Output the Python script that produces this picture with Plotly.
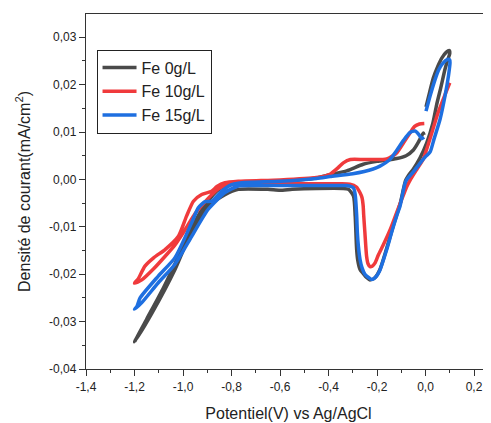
import plotly.graph_objects as go

# ---- data ----
fe0_x = [0.002, 0.015, 0.032, 0.05, 0.067, 0.085, 0.098,
         0.1, 0.09, 0.08, 0.065, 0.046, 0.03, 0.005, -0.023, -0.05, -0.071, -0.082, -0.09,
         -0.105, -0.133, -0.16, -0.188, -0.21, -0.229, -0.243, -0.258, -0.27, -0.279, -0.284,
         -0.29, -0.297, -0.318, -0.34, -0.45, -0.55, -0.6, -0.65, -0.772, -0.827, -0.896,
         -0.964, -1.033, -1.127, -1.2,
         -1.15, -1.08, -1.0, -0.95, -0.9, -0.86, -0.82, -0.77, -0.6, -0.45, -0.394, -0.325,
         -0.257, -0.2, -0.119, -0.08, -0.05, -0.03, -0.018, -0.009, -0.006]
fe0_y = [0.0153, 0.018, 0.0214, 0.0238, 0.0256, 0.0268, 0.0272,
         0.0266, 0.025, 0.0232, 0.0198, 0.0158, 0.0118, 0.0077, 0.0045, 0.0022, 0.0008, -0.0002, -0.0018,
         -0.0052, -0.0098, -0.0145, -0.019, -0.0208, -0.0212, -0.0207, -0.0198, -0.019, -0.0172, -0.0148,
         -0.0077, -0.0035, -0.0021, -0.0019, -0.0019, -0.0021, -0.0023, -0.0021, -0.0021, -0.0032, -0.0056,
         -0.0109, -0.019, -0.0281, -0.0343,
         -0.0295, -0.0228, -0.0142, -0.0088, -0.0048, -0.0024, -0.0012, -0.0008, -0.0004, 0.0003, 0.001, 0.0018,
         0.0032, 0.0038, 0.0044, 0.005, 0.0062, 0.0078, 0.009, 0.0098, 0.0094]

fe10_x = [0.1, 0.085, 0.07, 0.05, 0.03, 0.01, -0.01, -0.035, -0.064, -0.078, -0.1, -0.119,
          -0.145, -0.174, -0.195, -0.208, -0.22, -0.229, -0.237, -0.243, -0.25, -0.255, -0.257,
          -0.262, -0.27, -0.285, -0.312, -0.35, -0.5, -0.65, -0.77, -0.82, -0.86, -0.9, -0.95,
          -0.99, -1.033, -1.07, -1.12, -1.17, -1.2,
          -1.185, -1.157, -1.12, -1.074, -1.019, -0.985, -0.957, -0.923, -0.882, -0.86, -0.827,
          -0.772, -0.6, -0.45, -0.394, -0.36, -0.339, -0.31, -0.25, -0.16, -0.119, -0.09, -0.064,
          -0.045, -0.025, -0.005]
fe10_y = [0.0204, 0.0185, 0.0165, 0.0138, 0.0105, 0.0072, 0.0042, 0.0022, -0.0002, -0.0016, -0.0045,
          -0.007, -0.0105, -0.0138, -0.016, -0.0176, -0.0183, -0.0184, -0.0178, -0.0162, -0.0112,
          -0.0075, -0.0056, -0.0038, -0.0028, -0.0016, -0.001, -0.0009, -0.0009, -0.0009, -0.001,
          -0.0012, -0.0022, -0.0042, -0.0072, -0.0105, -0.0138, -0.016, -0.0188, -0.0212, -0.0219,
          -0.021, -0.0183, -0.0165, -0.0148, -0.012, -0.0077, -0.0046, -0.0032, -0.0025, -0.0015,
          -0.0007, -0.0004, -0.0001, 0.0004, 0.0011, 0.0025, 0.0035, 0.0042, 0.0042, 0.0043, 0.0056,
          0.0078, 0.0098, 0.0112, 0.0117, 0.0118]

fe15_x = [0.002, 0.02, 0.039, 0.055, 0.073, 0.09, 0.1,
          0.101, 0.095, 0.08, 0.06, 0.035, 0.019, 0.0, -0.023, -0.05, -0.078, -0.085, -0.092,
          -0.105, -0.119, -0.14, -0.16, -0.19, -0.202, -0.215, -0.222, -0.235, -0.25, -0.262,
          -0.27, -0.277, -0.281, -0.284, -0.29, -0.297, -0.325, -0.4, -0.55, -0.7, -0.772,
          -0.827, -0.896, -0.964, -1.033, -1.102, -1.17, -1.2,
          -1.19, -1.177, -1.102, -1.033, -0.964, -0.937, -0.909, -0.882, -0.841, -0.8, -0.758,
          -0.6, -0.45, -0.394, -0.3, -0.216, -0.188, -0.147, -0.119, -0.09, -0.064, -0.043,
          -0.033, -0.023, -0.015, -0.006]
fe15_y = [0.0144, 0.0178, 0.021, 0.0232, 0.0246, 0.0253, 0.0252,
          0.0246, 0.022, 0.0175, 0.0127, 0.0085, 0.0058, 0.0048, 0.0034, 0.0016, -0.0001, -0.0009,
          -0.0025, -0.0056, -0.0077, -0.0112, -0.0148, -0.0194, -0.0204, -0.021, -0.0211, -0.0207,
          -0.02, -0.0186, -0.0169, -0.014, -0.0112, -0.0075, -0.0032, -0.0018, -0.0013, -0.0013,
          -0.0013, -0.0013, -0.0014, -0.0028, -0.0063, -0.012, -0.0179, -0.0218, -0.026, -0.0274,
          -0.0268, -0.025, -0.0204, -0.0165, -0.0091, -0.006, -0.0047, -0.0046, -0.0025, -0.0011,
          -0.0007, -0.0004, 0.0002, 0.0006, 0.0012, 0.0022, 0.0028, 0.0042, 0.0061, 0.0083, 0.0099,
          0.0102, 0.0098, 0.0091, 0.0086, 0.0089]

series_names = ["Fe 0g/L", "Fe 10g/L", "Fe 15g/L"]
series_colors = ["#4a4a4a", "#f03a3c", "#1e6fe0"]

x_ticks = [-1.4, -1.2, -1.0, -0.8, -0.6, -0.4, -0.2, 0.0, 0.2]
x_tick_labels = ["-1,4", "-1,2", "-1,0", "-0,8", "-0,6", "-0,4", "-0,2", "0,0", "0,2"]
y_ticks = [-0.04, -0.03, -0.02, -0.01, 0.0, 0.01, 0.02, 0.03]
y_tick_labels = ["-0,04", "-0,03", "-0,02", "-0,01", "0,00", "0,01", "0,02", "0,03"]

fig = go.Figure()
for name, xs, ys, col in zip(series_names, [fe0_x, fe10_x, fe15_x],
                             [fe0_y, fe10_y, fe15_y], series_colors):
    fig.add_trace(go.Scatter(x=xs, y=ys, mode="lines", name=name,
                             line=dict(color=col, width=3.5, shape="spline", smoothing=0.6)))

font_fam = "Arial, Liberation Sans, sans-serif"
fig.update_layout(
    width=483, height=415,
    margin=dict(l=78, r=0, t=6, b=54),
    paper_bgcolor="white", plot_bgcolor="white",
    font=dict(family=font_fam, size=12, color="#222222"),
    showlegend=True,
    legend=dict(x=0.026, y=0.9, xanchor="left", yanchor="top",
                bordercolor="#222222", borderwidth=1, bgcolor="white",
                font=dict(size=16, color="#222222"), itemwidth=34,
                tracegroupgap=0),
    xaxis=dict(range=[-1.4, 0.27], tickvals=x_ticks, ticktext=x_tick_labels, automargin=False,
               showgrid=False, zeroline=False, showline=True, linecolor="#333333",
               linewidth=1.3, mirror=True, ticks="outside", ticklen=6, tickcolor="#333333",
               minor=dict(dtick=0.1, ticks="outside", ticklen=3, tickcolor="#333333"),
               title=dict(text="Potentiel(V) vs Ag/AgCl", font=dict(size=16), standoff=15)),
    yaxis=dict(range=[-0.04, 0.0349], tickvals=y_ticks, ticktext=y_tick_labels, automargin=False,
               showgrid=False, zeroline=False, showline=True, linecolor="#333333",
               linewidth=1.3, ticks="outside", ticklen=6, tickcolor="#333333",
               minor=dict(dtick=0.005, ticks="outside", ticklen=3, tickcolor="#333333"),
               title=dict(text="Densité de courant(mA/cm<sup>2</sup>)", font=dict(size=16), standoff=14)),
)

fig.write_html("out.html")
